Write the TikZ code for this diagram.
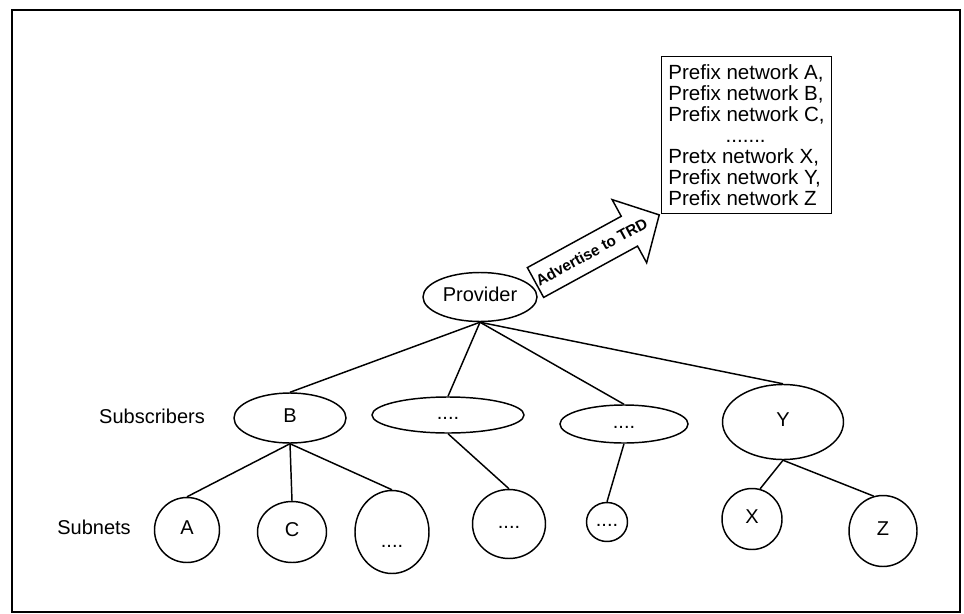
\documentclass[tikz,border=0pt]{standalone}
\usepackage{fontspec}
\setmainfont{Liberation Sans}
\usetikzlibrary{shapes.geometric}
\begin{document}
\begin{tikzpicture}[x=0.75pt,y=-0.75pt,
  every node/.style={font=\fontsize{15}{18}\selectfont},
  oval/.style={draw, ellipse, line width=1.1pt, inner sep=0pt, text height=1.5ex, text depth=.25ex},
  link/.style={line width=1.1pt},
]
\useasboundingbox (0,0) rectangle (964,614);
\draw[line width=1.2pt] (12,10) rectangle (960,612);

% labels
\node (subs) at (152,416) {Subscribers};
\node (subn) at (94,527) {Subnets};

% provider
\node[oval, minimum width=85.5pt, minimum height=36.75pt] (prov) at (480,297) {Provider};

% subscribers
\node[oval, minimum width=84pt, minimum height=37.5pt] (b) at (290,418) {B};
\node[oval, minimum width=114pt, minimum height=27pt] (e2) at (448,415) {....};
\node[oval, minimum width=96pt, minimum height=28.5pt] (e3) at (624,424) {....};
\node[oval, minimum width=90.75pt, minimum height=56.25pt] (y) at (783,422) {Y};

% subnets
\node[oval, minimum width=48.75pt, minimum height=48.75pt] (a) at (187,530) {A};
\node[oval, minimum width=51.75pt, minimum height=45.75pt] (c) at (292,532) {C};
\node[oval, minimum width=55.5pt, minimum height=62.25pt] (c3) at (392,532) {\raisebox{-8pt}{....}};
\node[oval, minimum width=54.75pt, minimum height=51.75pt] (c4) at (509,524) {....};
\node[oval, minimum width=30.75pt, minimum height=29.25pt] (c5) at (607,522) {....};
\node[oval, minimum width=45pt, minimum height=45.75pt] (x) at (752,519) {X};
\node[oval, minimum width=51pt, minimum height=53.25pt] (z) at (883,531) {Z};

% connectors
\draw[link] (prov.south) -- (b.north);
\draw[link] (prov.south) -- (e2.north);
\draw[link] (prov.south) -- (e3.north);
\draw[link] (prov.south) -- (y.north);
\draw[link] (b.south) -- (a.north);
\draw[link] (b.south) -- (c.north);
\draw[link] (b.south) -- (c3.north);
\draw[link] (e2.south) -- (c4.north);
\draw[link] (e3.south) -- (c5.north);
\draw[link] (y.south) -- (x.75);
\draw[link] (y.south) -- (z.105);

% prefix box
\node[draw, line width=1.1pt, minimum width=126.75pt, minimum height=117.75pt, align=left,
      inner xsep=5pt, anchor=north west, font=\fontsize{15.4}{15.75}\selectfont] (pfx) at (661,56)
  {Prefix network A,\\Prefix network B,\\Prefix network C,\\\hspace*{43pt}.......\\Pretx network X,\\Prefix network Y,\\Prefix network Z};

% advertise arrow
\begin{scope}[shift={(535.5,282.5)}, rotate=28.65]
\draw[link, fill=white] (0,-17) -- (107,-17) -- (107,-36) -- (141,0) -- (107,36) -- (107,17) -- (0,17) -- cycle;
\node[rotate=28.65, font=\bfseries\fontsize{11.5}{14}\selectfont, inner sep=0pt] (adv) at (64,0) {Advertise to TRD};
\end{scope}
\end{tikzpicture}
\end{document}
